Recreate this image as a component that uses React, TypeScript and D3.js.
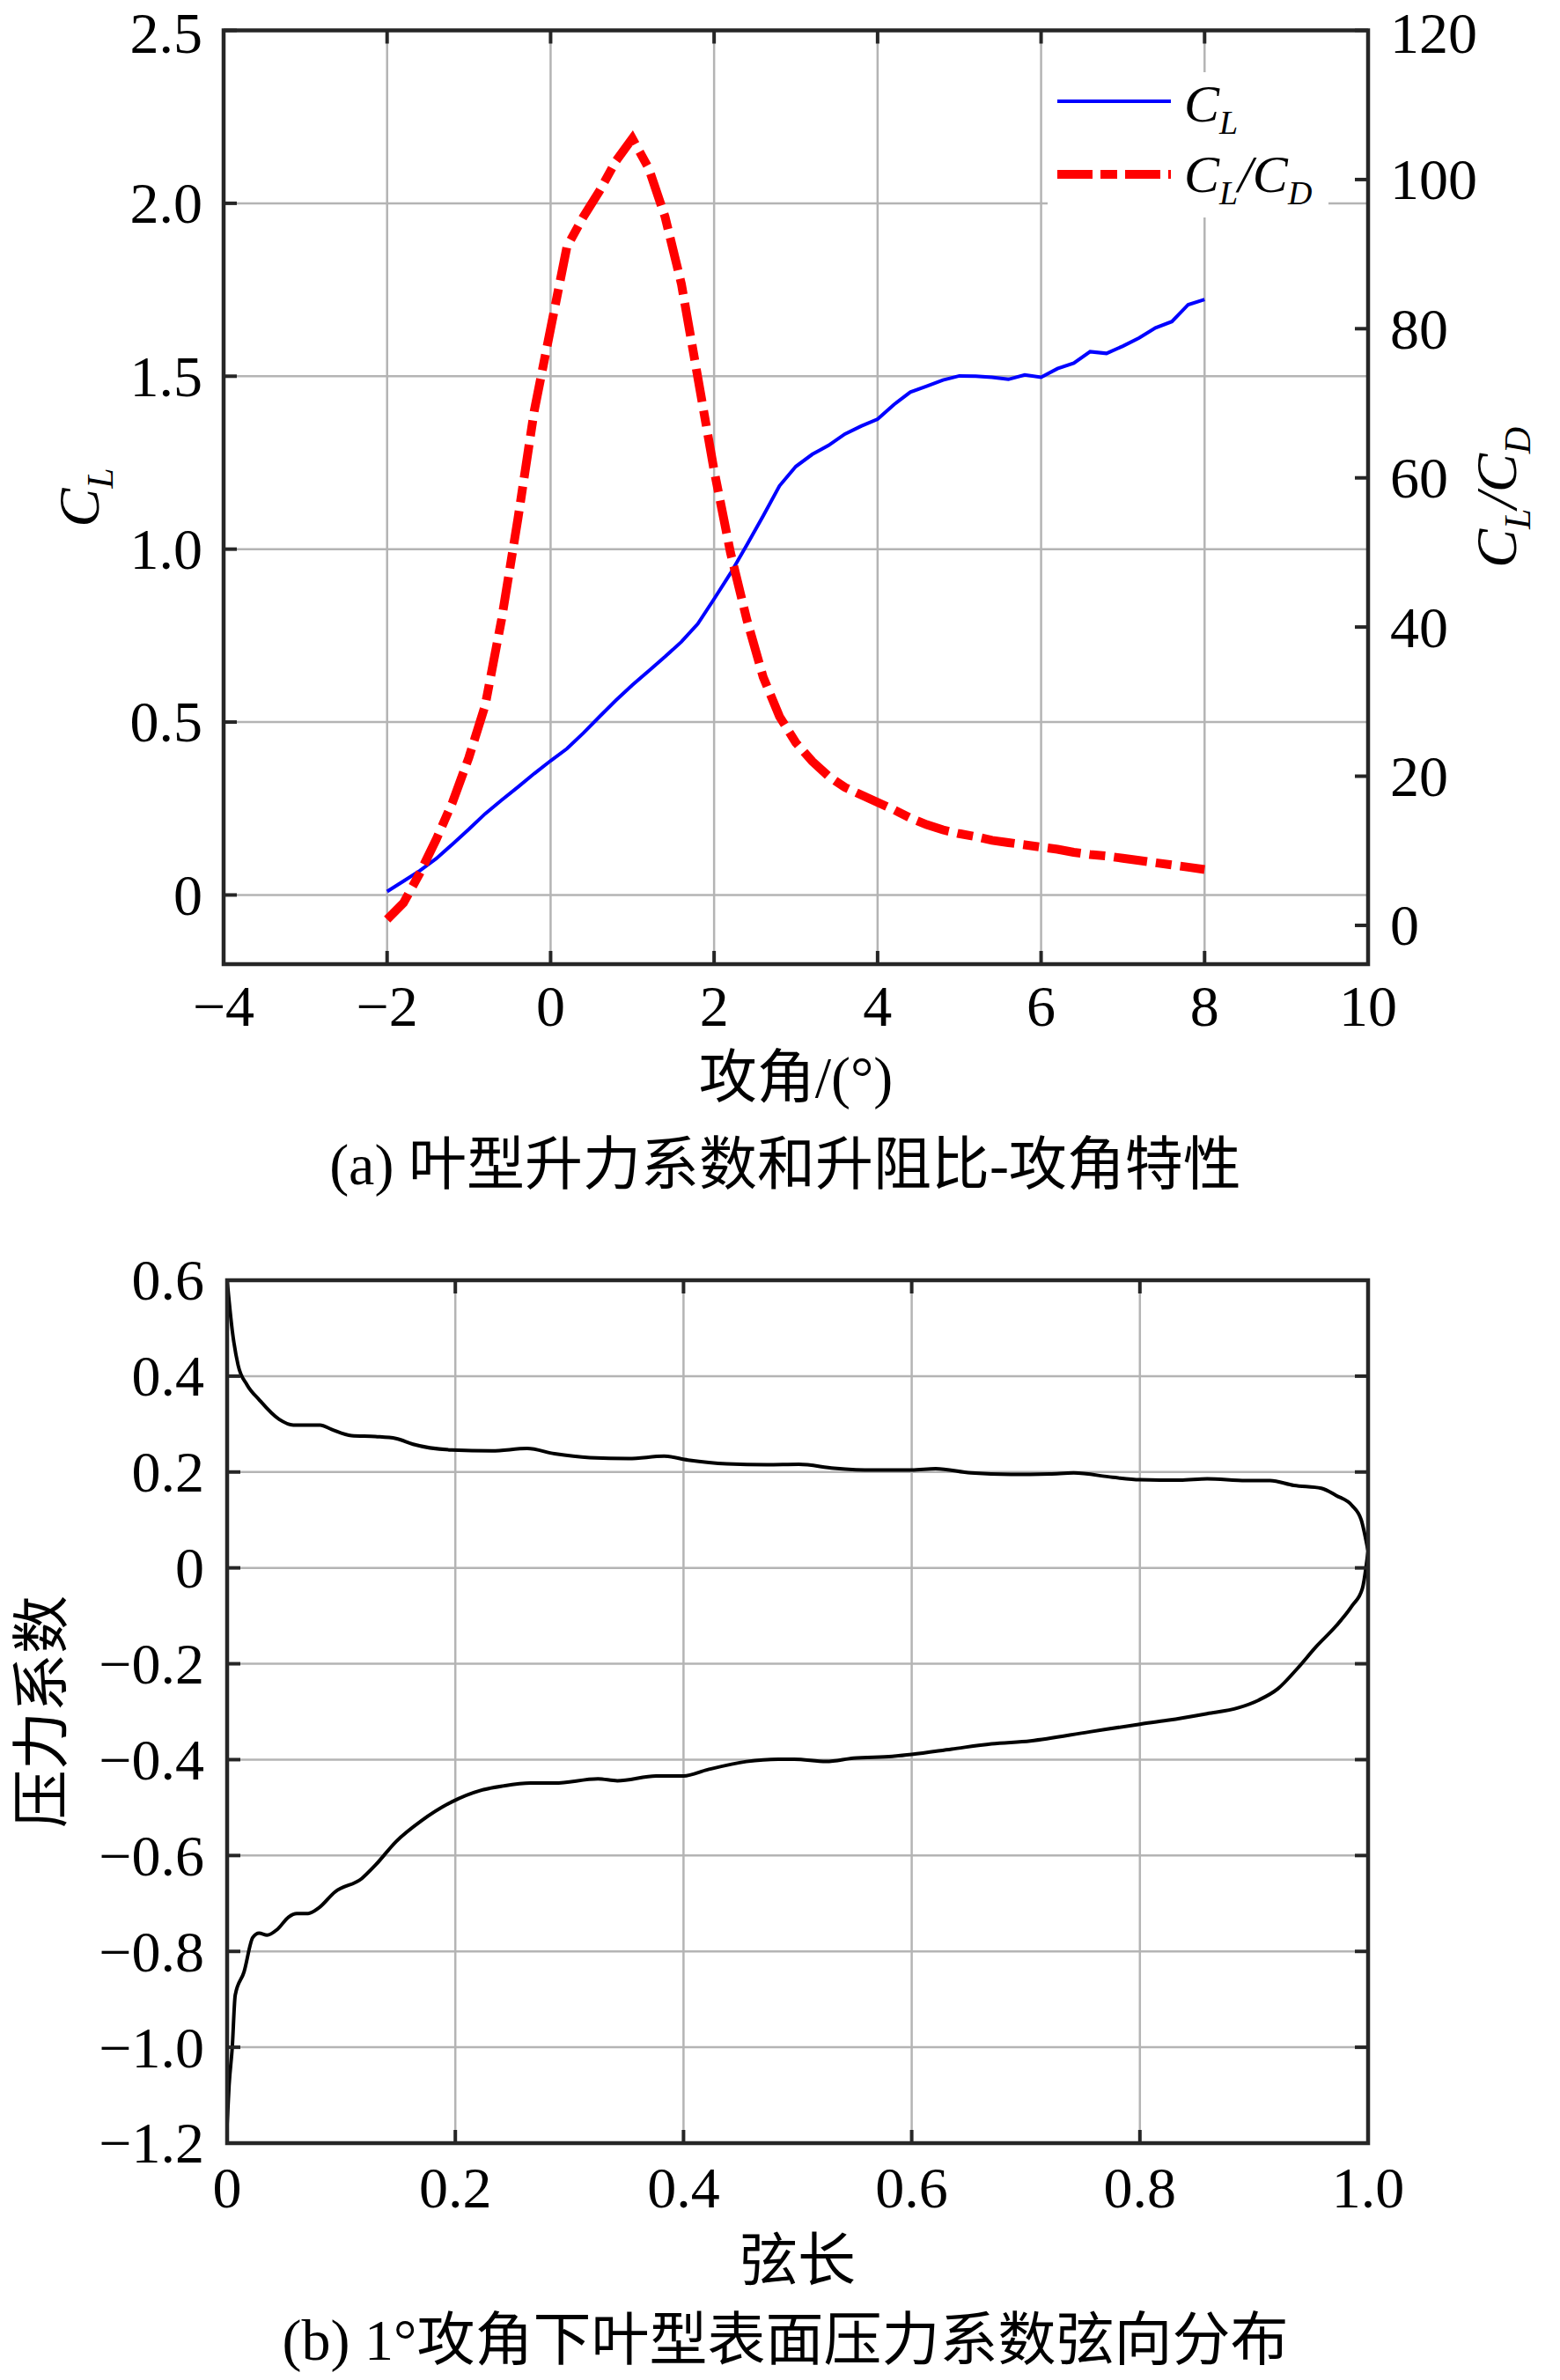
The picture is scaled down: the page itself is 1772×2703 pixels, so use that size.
import * as d3 from 'd3';
import React, { useEffect, useRef } from 'react';

// (a) lift coefficient and lift/drag ratio vs angle of attack
const ALPHA = [
  -2, -1.8, -1.6, -1.4, -1.2, -1, -0.8, -0.6, -0.4, -0.2, 0, 0.2, 0.4, 0.6, 0.8, 1, 1.2, 1.4, 1.6,
  1.8, 2, 2.2, 2.4, 2.6, 2.8, 3, 3.2, 3.4, 3.6, 3.8, 4, 4.2, 4.4, 4.6, 4.8, 5, 5.2, 5.4, 5.6, 5.8,
  6, 6.2, 6.4, 6.6, 6.8, 7, 7.2, 7.4, 7.6, 7.8, 8,
];
const CL = [
  0.01, 0.04, 0.07, 0.105, 0.147, 0.19, 0.235, 0.274, 0.312, 0.351, 0.388, 0.423, 0.468, 0.516,
  0.563, 0.607, 0.648, 0.689, 0.732, 0.784, 0.856, 0.93, 1.012, 1.096, 1.183, 1.239, 1.274, 1.3,
  1.333, 1.356, 1.376, 1.418, 1.454, 1.471, 1.489, 1.501, 1.5, 1.497, 1.491, 1.504, 1.497, 1.522,
  1.538, 1.571, 1.566, 1.587, 1.611, 1.64, 1.658, 1.707, 1.722,
];
const CL_CD = [
  0.8, 3, 7, 11.5, 16.5, 22.5, 29.5, 41, 54.5, 69, 80, 91, 95, 98.5, 102.5, 105.5, 101.5, 95, 86,
  73.5, 61, 50, 41, 33.3, 28, 24.5, 22, 20, 18.5, 17.5, 16.5, 15.5, 14.4, 13.5, 12.8, 12.3, 11.9,
  11.4, 11.1, 10.8, 10.5, 10.2, 9.8, 9.5, 9.3, 9, 8.7, 8.4, 8.1, 7.8, 7.5,
];
const ALPHA_TICKS = [-4, -2, 0, 2, 4, 6, 8, 10];
const CL_TICKS = [0, 0.5, 1, 1.5, 2, 2.5];
const CL_TICK_LABELS = ['0', '0.5', '1.0', '1.5', '2.0', '2.5'];
const RATIO_TICKS = [0, 20, 40, 60, 80, 100, 120];

// (b) pressure coefficient along the chord at 1 deg
const UPPER_X = [
  0, 0.0045, 0.0096, 0.0174, 0.028, 0.0455, 0.058, 0.0815, 0.0915, 0.109, 0.13, 0.148, 0.163,
  0.197, 0.232, 0.263, 0.287, 0.318, 0.352, 0.383, 0.404, 0.438, 0.473, 0.501, 0.532, 0.566, 0.6,
  0.621, 0.652, 0.687, 0.721, 0.742, 0.776, 0.8, 0.835, 0.859, 0.893, 0.914, 0.935, 0.959, 0.972,
  0.986, 0.994, 1,
];
const UPPER_CP = [
  0.6, 0.495, 0.423, 0.382, 0.351, 0.31, 0.298, 0.298, 0.289, 0.276, 0.274, 0.27, 0.258, 0.246,
  0.244, 0.249, 0.238, 0.23, 0.228, 0.233, 0.225, 0.217, 0.215, 0.216, 0.208, 0.204, 0.204, 0.207,
  0.198, 0.195, 0.196, 0.198, 0.189, 0.184, 0.183, 0.186, 0.182, 0.182, 0.172, 0.166, 0.151, 0.13,
  0.1, 0.035,
];
const LOWER_X = [
  0, 0.0017, 0.0045, 0.0071, 0.0148, 0.0225, 0.028, 0.035, 0.044, 0.054, 0.061, 0.071, 0.08,
  0.0945, 0.118, 0.13, 0.148, 0.17, 0.197, 0.221, 0.242, 0.266, 0.287, 0.325, 0.342, 0.376, 0.4,
  0.421, 0.455, 0.483, 0.497, 0.525, 0.549, 0.583, 0.6, 0.635, 0.67, 0.704, 0.756, 0.8, 0.824,
  0.859, 0.886, 0.904, 0.921, 0.938, 0.955, 0.972, 0.986, 0.995, 1,
];
const LOWER_CP = [
  -1.16, -1.08, -1.0, -0.891, -0.843, -0.771, -0.762, -0.766, -0.754, -0.728, -0.721, -0.721,
  -0.71, -0.676, -0.648, -0.62, -0.571, -0.528, -0.488, -0.465, -0.455, -0.449, -0.449, -0.44,
  -0.444, -0.434, -0.434, -0.421, -0.404, -0.399, -0.399, -0.404, -0.397, -0.393, -0.389, -0.378,
  -0.367, -0.361, -0.342, -0.326, -0.318, -0.304, -0.292, -0.276, -0.252, -0.21, -0.163, -0.121,
  -0.079, -0.043, 0.035,
];
const CHORD_TICKS = [0, 0.2, 0.4, 0.6, 0.8, 1];
const CHORD_TICK_LABELS = ['0', '0.2', '0.4', '0.6', '0.8', '1.0'];
const CP_TICKS = [0.6, 0.4, 0.2, 0, -0.2, -0.4, -0.6, -0.8, -1, -1.2];
const CP_TICK_LABELS = ['0.6', '0.4', '0.2', '0', '−0.2', '−0.4', '−0.6', '−0.8', '−1.0', '−1.2'];

const W = 1772;
const H = 2703;
const SERIF = "'Liberation Serif', 'Times New Roman', serif";
const CJK = "'Liberation Serif', 'Noto Sans CJK SC', sans-serif";
const FS = 66;
const AXIS = '#262626';
const GRID = '#b4b4b4';
const TICK = 15;

type Sel = d3.Selection<SVGGElement, unknown, null, undefined>;

// grid + box + inward ticks
function frame(
  g: Sel,
  x: d3.ScaleLinear<number, number>,
  y: d3.ScaleLinear<number, number>,
  xTicks: number[],
  yTicks: number[],
  rightTicks: number[] | null,
  yRight: d3.ScaleLinear<number, number> | null
) {
  const [x0, x1] = x.range();
  const [y0, y1] = y.range();
  g.append('g')
    .selectAll('line')
    .data(xTicks)
    .enter()
    .append('line')
    .attr('x1', d => x(d))
    .attr('x2', d => x(d))
    .attr('y1', y0)
    .attr('y2', y1)
    .attr('stroke', GRID)
    .attr('stroke-width', 2.5);
  g.append('g')
    .selectAll('line')
    .data(yTicks)
    .enter()
    .append('line')
    .attr('x1', x0)
    .attr('x2', x1)
    .attr('y1', d => y(d))
    .attr('y2', d => y(d))
    .attr('stroke', GRID)
    .attr('stroke-width', 2.5);
  return () => {
    const t = g.append('g').attr('stroke', AXIS).attr('stroke-width', 4);
    xTicks.forEach(v => {
      t.append('line').attr('x1', x(v)).attr('x2', x(v)).attr('y1', y0).attr('y2', y0 - TICK);
      t.append('line').attr('x1', x(v)).attr('x2', x(v)).attr('y1', y1).attr('y2', y1 + TICK);
    });
    yTicks.forEach(v => {
      t.append('line').attr('x1', x0).attr('x2', x0 + TICK).attr('y1', y(v)).attr('y2', y(v));
    });
    const rs = yRight ?? y;
    (rightTicks ?? yTicks).forEach(v => {
      t.append('line').attr('x1', x1).attr('x2', x1 - TICK).attr('y1', rs(v)).attr('y2', rs(v));
    });
    g.append('rect')
      .attr('x', x0)
      .attr('y', y1)
      .attr('width', x1 - x0)
      .attr('height', y0 - y1)
      .attr('fill', 'none')
      .attr('stroke', AXIS)
      .attr('stroke-width', 4.5);
  };
}

export default function App() {
  const ref = useRef<SVGSVGElement>(null);

  useEffect(() => {
    if (!ref.current) return;
    const svg = d3.select(ref.current);
    svg.selectAll('*').remove();

    // ---------- (a) ----------
    const a = svg.append('g') as unknown as Sel;
    const xa = d3.scaleLinear().domain([-4, 10]).range([254, 1554]);
    const ya = d3.scaleLinear().domain([-0.2, 2.5]).range([1095, 34.5]);
    const yr = d3.scaleLinear().domain([-5.2, 120]).range([1095, 34.5]);
    const closeA = frame(a, xa, ya, ALPHA_TICKS, CL_TICKS, RATIO_TICKS, yr);

    const clLine = d3
      .line<number>()
      .x((_, i) => xa(ALPHA[i]))
      .y(d => ya(d));
    const ratioLine = d3
      .line<number>()
      .x((_, i) => xa(ALPHA[i]))
      .y(d => yr(d));
    a.append('path')
      .attr('d', clLine(CL))
      .attr('fill', 'none')
      .attr('stroke', '#0000ff')
      .attr('stroke-width', 4);
    a.append('path')
      .attr('d', ratioLine(CL_CD))
      .attr('fill', 'none')
      .attr('stroke', '#ff0000')
      .attr('stroke-width', 10)
      .attr('stroke-dasharray', '38 10 18 10');
    closeA();

    // legend
    a.append('rect').attr('x', 1190).attr('y', 82).attr('width', 319).attr('height', 165).attr('fill', '#fff');
    a.append('line')
      .attr('x1', 1201).attr('x2', 1330).attr('y1', 115).attr('y2', 115)
      .attr('stroke', '#0000ff').attr('stroke-width', 4);
    a.append('line')
      .attr('x1', 1201).attr('x2', 1330).attr('y1', 198).attr('y2', 198)
      .attr('stroke', '#ff0000').attr('stroke-width', 10).attr('stroke-dasharray', '40 9 19 9');
    const lt1 = a.append('text').attr('x', 1345).attr('y', 138)
      .attr('font-family', SERIF).attr('font-style', 'italic').attr('font-size', 60);
    lt1.append('tspan').text('C');
    lt1.append('tspan').attr('dy', 14).attr('font-size', 38).text('L');
    const lt2 = a.append('text').attr('x', 1345).attr('y', 218)
      .attr('font-family', SERIF).attr('font-style', 'italic').attr('font-size', 60);
    lt2.append('tspan').text('C');
    lt2.append('tspan').attr('dy', 14).attr('font-size', 38).text('L');
    lt2.append('tspan').attr('dy', -14).text('/C');
    lt2.append('tspan').attr('dy', 14).attr('font-size', 38).text('D');

    // tick labels (a); the top labels are nudged so the text box stays on the page
    const ta = a.append('g').attr('font-family', SERIF).attr('font-size', FS).attr('fill', '#000');
    ALPHA_TICKS.forEach(v => {
      ta.append('text').attr('x', xa(v)).attr('y', 1165).attr('text-anchor', 'middle')
        .text(v < 0 ? '−' + Math.abs(v) : String(v));
    });
    CL_TICKS.forEach((v, i) => {
      ta.append('text').attr('x', 230).attr('y', Math.max(ya(v), 38)).attr('dy', '0.34em')
        .attr('text-anchor', 'end').text(CL_TICK_LABELS[i]);
    });
    RATIO_TICKS.forEach(v => {
      ta.append('text').attr('x', 1579).attr('y', Math.max(yr(v), 38)).attr('dy', '0.34em').text(String(v));
    });

    const yl = a.append('text').attr('transform', 'translate(112,565) rotate(-90)')
      .attr('text-anchor', 'middle').attr('font-family', SERIF).attr('font-style', 'italic').attr('font-size', FS);
    yl.append('tspan').text('C');
    yl.append('tspan').attr('dy', 16).attr('font-size', 42).text('L');
    const yrl = a.append('text').attr('transform', 'translate(1722,565) rotate(-90)')
      .attr('text-anchor', 'middle').attr('font-family', SERIF).attr('font-style', 'italic').attr('font-size', FS);
    yrl.append('tspan').text('C');
    yrl.append('tspan').attr('dy', 16).attr('font-size', 42).text('L');
    yrl.append('tspan').attr('dy', -16).text('/C');
    yrl.append('tspan').attr('dy', 16).attr('font-size', 42).text('D');

    a.append('text').attr('x', 904).attr('y', 1246).attr('text-anchor', 'middle')
      .attr('font-family', CJK).attr('font-size', FS).text('攻角/(°)');
    a.append('text').attr('x', 892).attr('y', 1345).attr('text-anchor', 'middle')
      .attr('font-family', CJK).attr('font-size', FS).text('(a) 叶型升力系数和升阻比-攻角特性');

    // ---------- (b) ----------
    const b = svg.append('g') as unknown as Sel;
    const xb = d3.scaleLinear().domain([0, 1]).range([258, 1554]);
    const yb = d3.scaleLinear().domain([-1.2, 0.6]).range([2434, 1454]);
    const closeB = frame(b, xb, yb, CHORD_TICKS, CP_TICKS, null, null);
    const cpLine = (xs: number[]) =>
      d3
        .line<number>()
        .x((_, i) => xb(xs[i]))
        .y(d => yb(d))
        .curve(d3.curveMonotoneX);
    b.append('path').attr('d', cpLine(UPPER_X)(UPPER_CP))
      .attr('fill', 'none').attr('stroke', '#000').attr('stroke-width', 4);
    b.append('path').attr('d', cpLine(LOWER_X)(LOWER_CP))
      .attr('fill', 'none').attr('stroke', '#000').attr('stroke-width', 4);
    closeB();

    const tb = b.append('g').attr('font-family', SERIF).attr('font-size', FS).attr('fill', '#000');
    CHORD_TICKS.forEach((v, i) => {
      tb.append('text').attr('x', xb(v)).attr('y', 2507).attr('text-anchor', 'middle').text(CHORD_TICK_LABELS[i]);
    });
    CP_TICKS.forEach((v, i) => {
      tb.append('text').attr('x', 232).attr('y', yb(v)).attr('dy', '0.34em').attr('text-anchor', 'end')
        .text(CP_TICK_LABELS[i]);
    });
    b.append('text').attr('transform', 'translate(47,1944) rotate(-90)').attr('text-anchor', 'middle')
      .attr('dy', '0.35em').attr('font-family', CJK).attr('font-size', FS).text('压力系数');
    b.append('text').attr('x', 906).attr('y', 2590).attr('text-anchor', 'middle')
      .attr('font-family', CJK).attr('font-size', FS).text('弦长');
    b.append('text').attr('x', 892).attr('y', 2680).attr('text-anchor', 'middle')
      .attr('font-family', CJK).attr('font-size', FS).text('(b) 1°攻角下叶型表面压力系数弦向分布');
  }, []);

  return (
    <svg
      ref={ref}
      width={W}
      height={H}
      viewBox={`0 0 ${W} ${H}`}
      style={{ position: 'absolute', left: 0, top: 0, background: '#fff', display: 'block' }}
    />
  );
}
